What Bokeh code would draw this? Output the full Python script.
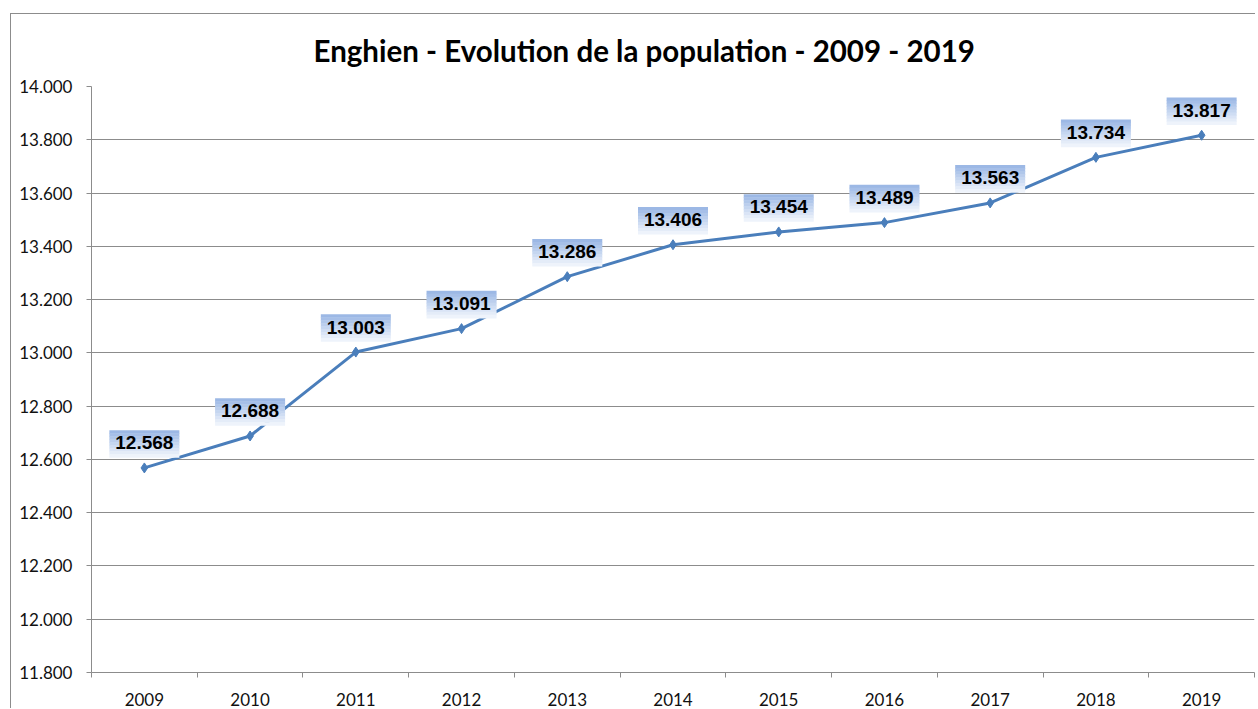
from bokeh.plotting import figure
from bokeh.models import Range1d, FixedTicker, CustomJSTickFormatter, ColumnDataSource
from bokeh.embed import file_html
from bokeh.resources import INLINE

# ---- data ----
years = ["2009", "2010", "2011", "2012", "2013", "2014", "2015", "2016", "2017", "2018", "2019"]
population = [12568, 12688, 13003, 13091, 13286, 13406, 13454, 13489, 13563, 13734, 13817]
y_ticks = [11800, 12000, 12200, 12400, 12600, 12800, 13000, 13200, 13400, 13600, 13800, 14000]
title_text = "Enghien - Evolution de la population - 2009 - 2019"

Y_MIN, Y_MAX = 11800, 14000
W, H = 1245, 695
MB_L, MB_R, MB_T, MB_B = 80, 2, 72, 37
FRAME_H = H - MB_T - MB_B

xs = list(range(len(years)))
labels = [f"{v/1000:.3f}" for v in population]

p = figure(width=W, height=H, output_backend="svg", toolbar_location=None,
           x_range=Range1d(-0.5, len(years) - 0.5), y_range=Range1d(Y_MIN, Y_MAX),
           min_border_left=MB_L, min_border_right=MB_R, min_border_top=MB_T,
           min_border_bottom=MB_B)
p.outline_line_color = None
p.background_fill_color = "white"
p.border_fill_color = "white"
GRID = "#8c8c8c"
p.styles = {"border-left": f"1px solid {GRID}", "border-top": f"1px solid {GRID}",
            "margin-left": "10px", "margin-top": "13px"}

# title
p.title.text = title_text
p.title.text_font = "Lato"
p.title.text_font_size = "29.5px"
p.title.text_font_style = "bold"
p.title.text_color = "#000000"
p.title.align = "left"
p.title.vertical_align = "top"
p.title.offset = 222
p.title.standoff = 34

# y axis
p.yaxis.ticker = FixedTicker(ticks=y_ticks)
p.yaxis.formatter = CustomJSTickFormatter(code="return (tick/1000).toFixed(3);")
p.yaxis.axis_line_color = GRID
p.yaxis.major_tick_line_color = GRID
p.yaxis.major_tick_out = 5
p.yaxis.major_tick_in = 0
p.yaxis.minor_tick_line_color = None
p.yaxis.major_label_standoff = 14
p.yaxis.major_label_text_font = "Lato"
p.yaxis.major_label_text_font_size = "17px"
p.yaxis.major_label_text_color = "#111111"

# x axis: labels at centres, ticks at boundaries
bounds = [i - 0.5 for i in range(len(years) + 1)]
p.xaxis.ticker = FixedTicker(ticks=xs, minor_ticks=bounds)
p.xaxis.major_label_overrides = {i: y for i, y in enumerate(years)}
p.xaxis.axis_line_color = GRID
p.xaxis.major_tick_line_color = None
p.xaxis.minor_tick_line_color = GRID
p.xaxis.minor_tick_out = 5
p.xaxis.minor_tick_in = 0
p.xaxis.major_label_standoff = 14
p.xaxis.major_label_text_font = "Lato"
p.xaxis.major_label_text_font_size = "17px"
p.xaxis.major_label_text_color = "#111111"

p.xgrid.grid_line_color = None
p.ygrid.ticker = FixedTicker(ticks=y_ticks)
p.ygrid.grid_line_color = GRID
p.ygrid.grid_line_width = 1

# line + markers
BLUE = "#4a7ebb"
src = ColumnDataSource(dict(x=xs, y=population, label=labels))
p.line("x", "y", source=src, line_color=BLUE, line_width=3)
p.scatter("x", "y", source=src, marker="diamond", size=10, fill_color=BLUE, line_color=BLUE)

# label boxes with vertical gradient
ppx = (Y_MAX - Y_MIN) / FRAME_H
BOX_W, BOX_H, OFF = 70, 27, 24
N = 9
strip = BOX_H / N
top_c = (0x9c, 0xb8, 0xe5)
bot_c = (0xee, 0xf3, 0xfb)
for k in range(N):
    t = k / (N - 1)
    c = tuple(int(round(a + (b - a) * t)) for a, b in zip(top_c, bot_c))
    col = "#%02x%02x%02x" % c
    off_px = OFF + BOX_H / 2 - (k + 0.5) * strip
    ys = [v + off_px * ppx for v in population]
    p.rect(x=xs, y=ys, width=BOX_W, height=strip + 0.6, width_units="screen",
           height_units="screen", fill_color=col, line_color=None)

text_y = [v + (OFF + 1) * ppx for v in population]
p.text(x=xs, y=text_y, text=labels, text_align="center", text_baseline="middle",
       text_font={"value": "Liberation Sans"}, text_font_size="19px",
       text_font_style="bold", text_color="#000000")

open("out.html", "w").write(file_html(p, INLINE))
